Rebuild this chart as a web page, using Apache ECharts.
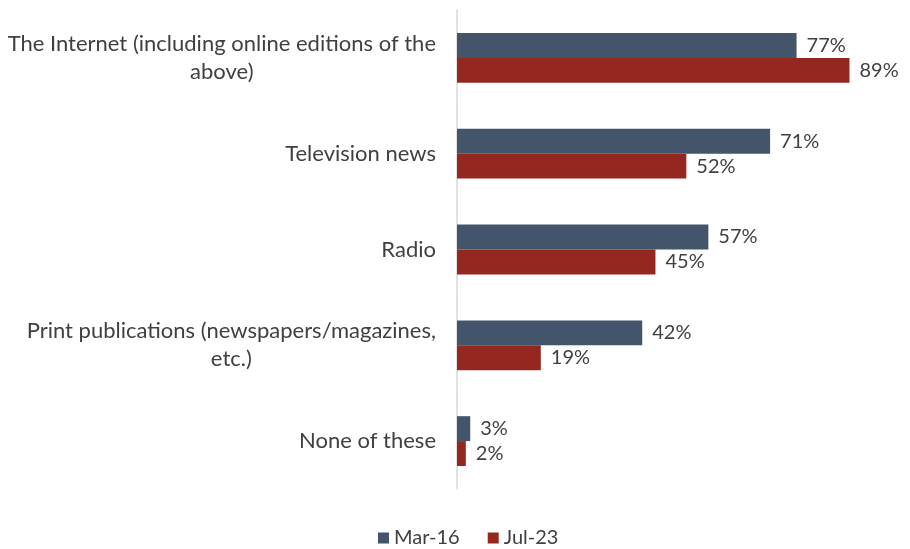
<!DOCTYPE html>
<html>
<head>
<meta charset="utf-8">
<script src="https://cdn.jsdelivr.net/npm/echarts@6/dist/echarts.min.js"></script>
<style>
  html, body { margin: 0; padding: 0; background: #fff; }
  #main { width: 910px; height: 549px; }
</style>
</head>
<body>
<div id="main"></div>
<script>
// 数据
var categories = [
  'The Internet (including online editions of the\nabove)',
  'Television news',
  'Radio',
  'Print publications (newspapers/magazines,\netc.)',
  'None of these'
];
var seriesNames = ['Mar-16', 'Jul-23'];
var mar16 = [77, 71, 57, 42, 3];
var jul23 = [89, 52, 45, 19, 2];
var colors = ['#44546a', '#942720'];

var font = 'Lato, "Open Sans", sans-serif';
var myChart = echarts.init(document.getElementById('main'));

function barSeries (name, data, color) {
  return {
    name: name,
    type: 'bar',
    data: data,
    barGap: '0%',
    barCategoryGap: '48%',
    itemStyle: { color: color },
    label: {
      show: true,
      position: 'right',
      distance: 10,
      formatter: '{c}%',
      color: '#404040',
      fontSize: 20,
      fontFamily: font
    }
  };
}

var option = {
  animation: false,
  backgroundColor: '#fff',
  textStyle: { fontFamily: font },
  grid: { left: 457, right: 12, top: 10, bottom: 60, containLabel: false },
  legend: {
    data: seriesNames,
    bottom: -4,
    left: 373,
    itemWidth: 11,
    itemHeight: 11,
    itemGap: 28,
    icon: 'rect',
    textStyle: { color: '#404040', fontSize: 20, fontFamily: font }
  },
  xAxis: {
    type: 'value',
    min: 0,
    max: 100,
    show: false
  },
  yAxis: {
    type: 'category',
    inverse: true,
    data: categories,
    axisLine: { show: true, lineStyle: { color: '#d9d9d9', width: 1.5 } },
    axisTick: { show: false },
    axisLabel: {
      margin: 21,
      color: '#404040',
      fontSize: 22,
      fontFamily: font,
      lineHeight: 28,
      // 多行标签每行居中，整体右对齐
      formatter: function (v) {
        return v.split('\n').map(function (s) { return '{c|' + s + '}'; }).join('\n');
      },
      rich: { c: { align: 'center', fontSize: 22, lineHeight: 28, color: '#404040', fontFamily: font } }
    }
  },
  series: [
    barSeries(seriesNames[0], mar16, colors[0]),
    barSeries(seriesNames[1], jul23, colors[1])
  ]
};
myChart.setOption(option);
</script>
</body>
</html>
